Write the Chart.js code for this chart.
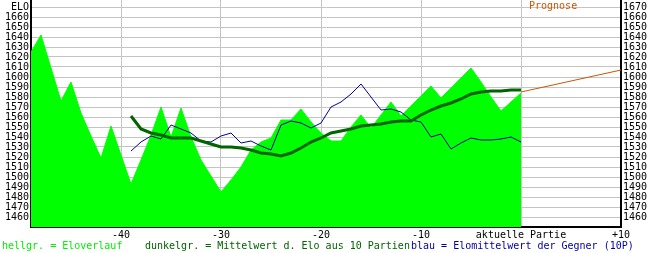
<!DOCTYPE html>
<html>
<head>
<meta charset="utf-8">
<script src="https://cdn.jsdelivr.net/npm/chart.js@4.4.1/dist/chart.umd.min.js"></script>
<style>
    body { margin: 0; background: #fff; }
    #wrap { width: 650px; height: 253px; position: relative; }
</style>
</head>
<body>
<div id="wrap"><canvas id="elo"></canvas></div>
<script>
// games relative to the current one (0 = aktuelle Partie)
const games = [-49, -48, -47, -46, -45, -44, -43, -42, -41, -40,
    -39, -38, -37, -36, -35, -34, -33, -32, -31, -30,
    -29, -28, -27, -26, -25, -24, -23, -22, -21, -20,
    -19, -18, -17, -16, -15, -14, -13, -12, -11, -10,
    -9, -8, -7, -6, -5, -4, -3, -2, -1, 0];

// hellgr. = Eloverlauf
const eloValues = [1625, 1642, 1609, 1576, 1595, 1564, 1541, 1519, 1551, 1522,
    1493, 1517, 1542, 1570, 1540, 1569, 1540, 1517, 1501, 1485,
    1497, 1510, 1527, 1535, 1539, 1557, 1557, 1568, 1555, 1544,
    1536, 1536, 1550, 1562, 1549, 1562, 1575, 1561, 1571, 1581,
    1591, 1579, 1589, 1599, 1609, 1595, 1580, 1566, 1575, 1584];

// dunkelgr. = Mittelwert aus 10 Partien (starts at -39)
const avgGames = games.slice(10);
const avgValues = [1561, 1548, 1544, 1542, 1539, 1539, 1539, 1536, 1533, 1530,
    1530, 1529, 1527, 1524, 1523, 1521, 1524, 1529, 1535, 1539,
    1544, 1546, 1548, 1551, 1552, 1553, 1555, 1556, 1556, 1562,
    1567, 1571, 1574, 1578, 1583, 1585, 1586, 1586, 1587, 1587];

// blau = Elomittelwert der Gegner
const oppValues = [1526, 1535, 1541, 1538, 1552, 1548, 1544, 1536, 1535, 1541,
    1544, 1534, 1536, 1531, 1527, 1552, 1556, 1554, 1549, 1554,
    1570, 1575, 1583, 1593, 1580, 1567, 1568, 1565, 1557, 1555,
    1540, 1543, 1528, 1534, 1539, 1537, 1537, 1538, 1540, 1535];

// Prognose
const prognoseGames = [0, 10];
const prognoseValues = [1585, 1607];

const xTicks = [-40, -30, -20, -10, 0, 10];
const yTicks = [1460, 1470, 1480, 1490, 1500, 1510, 1520, 1530, 1540, 1550, 1560,
    1570, 1580, 1590, 1600, 1610, 1620, 1630, 1640, 1650, 1660, 1670];

const FONT = { family: 'DejaVu Sans Mono', size: 10 };
const GRID = '#c4c4c4';

const toPoints = (xs, ys) => xs.map((x, i) => ({ x: x, y: ys[i] }));

const setTicks = list => scale => {
    scale.ticks = list.map(v => ({ value: v }));
};

// fixed box sizes, no extra label padding
const fixSize = (w, h) => scale => {
    if (w !== null) scale.width = w;
    if (h !== null) scale.height = h;
    scale.paddingTop = 0;
    scale.paddingBottom = 0;
    scale.paddingLeft = 0;
    scale.paddingRight = 0;
};

// texts that are not part of an axis
const extraText = {
    id: 'extraText',
    afterDraw(chart) {
        const ctx = chart.ctx;
        ctx.save();
        ctx.font = '10px "DejaVu Sans Mono"';
        ctx.textBaseline = 'middle';
        ctx.textAlign = 'left';
        ctx.fillStyle = '#cc5500';
        ctx.fillText('Prognose', 529, 6);
        ctx.fillStyle = '#00ee00';
        ctx.fillText('hellgr. = Eloverlauf', 2, 246);
        ctx.fillStyle = '#006400';
        ctx.fillText('dunkelgr. = Mittelwert d. Elo aus 10 Partien', 145, 246);
        ctx.fillStyle = '#0000a0';
        ctx.fillText('blau = Elomittelwert der Gegner (10P)', 411, 246);
        ctx.restore();
    }
};

new Chart(document.getElementById('elo'), {
    type: 'line',
    data: {
        datasets: [
            {
                label: 'Eloverlauf',
                data: toPoints(games, eloValues),
                borderColor: '#00ff00',
                backgroundColor: '#00ff00',
                borderWidth: 1,
                fill: 'start',
                pointRadius: 0,
                tension: 0,
                order: 4
            },
            {
                label: 'Prognose',
                data: toPoints(prognoseGames, prognoseValues),
                borderColor: '#cc5500',
                borderWidth: 1,
                fill: false,
                pointRadius: 0,
                order: 3
            },
            {
                label: 'Gegner',
                data: toPoints(avgGames, oppValues),
                borderColor: '#0000a0',
                borderWidth: 1,
                fill: false,
                pointRadius: 0,
                tension: 0,
                order: 2
            },
            {
                label: 'Mittelwert',
                data: toPoints(avgGames, avgValues),
                borderColor: '#006400',
                borderWidth: 3,
                fill: false,
                pointRadius: 0,
                tension: 0,
                order: 1
            }
        ]
    },
    options: {
        responsive: true,
        maintainAspectRatio: false,
        animation: false,
        layout: { padding: 0 },
        plugins: {
            legend: { display: false },
            tooltip: { enabled: false }
        },
        scales: {
            x: {
                type: 'linear',
                min: -49,
                max: 10,
                afterBuildTicks: setTicks(xTicks),
                afterFit: fixSize(null, 26),
                grid: { color: GRID, drawTicks: false },
                border: { color: '#000', width: 2 },
                ticks: {
                    font: FONT,
                    color: '#000',
                    padding: 2,
                    maxRotation: 0,
                    autoSkip: false,
                    callback: v => v === 0 ? 'aktuelle Partie' : (v > 0 ? '+' + v : String(v))
                }
            },
            y: {
                position: 'left',
                min: 1450,
                max: 1677,
                afterBuildTicks: setTicks(yTicks),
                afterFit: fixSize(31, null),
                grid: { color: GRID, drawTicks: false },
                border: { color: '#000', width: 2 },
                ticks: {
                    font: FONT,
                    color: '#000',
                    padding: 2,
                    autoSkip: false,
                    callback: v => v === 1670 ? 'ELO' : String(v)
                }
            },
            y2: {
                position: 'right',
                min: 1450,
                max: 1677,
                afterBuildTicks: setTicks(yTicks),
                afterFit: fixSize(29, null),
                grid: { drawOnChartArea: false, drawTicks: false },
                border: { color: '#000', width: 2 },
                ticks: {
                    font: FONT,
                    color: '#000',
                    padding: 2,
                    autoSkip: false,
                    callback: v => String(v)
                }
            }
        }
    },
    plugins: [extraText]
});
</script>
</body>
</html>
